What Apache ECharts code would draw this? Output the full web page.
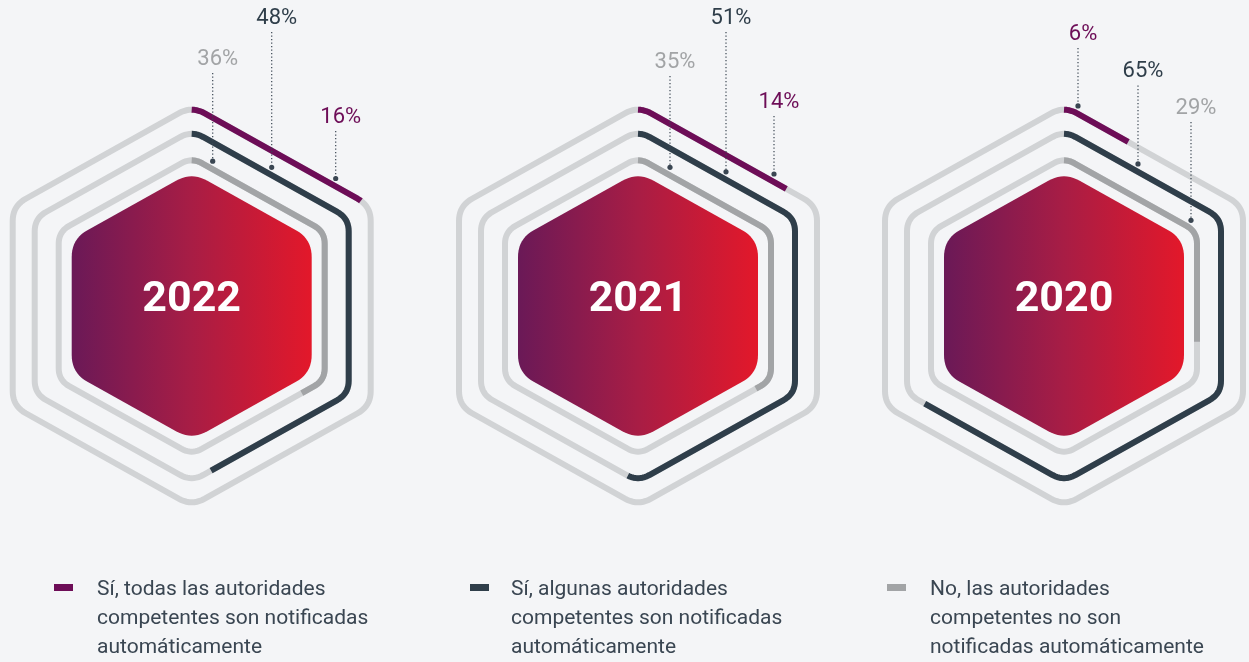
<!DOCTYPE html>
<html>
<head>
<meta charset="utf-8">
<title>Notificación automática a las autoridades competentes</title>
<script src="https://cdn.jsdelivr.net/npm/echarts@6/dist/echarts.min.js"></script>
<style>
  html, body { margin: 0; padding: 0; background: #f4f5f7; }
  #chart { width: 1249px; height: 662px; }
</style>
</head>
<body>
<div id="chart"></div>
<script>
// data
const years = ["2022", "2021", "2020"];
const todas = [16, 14, 6];     // Sí, todas las autoridades
const algunas = [48, 51, 65];  // Sí, algunas autoridades
const ninguna = [36, 35, 29];  // No
const legendLabels = [
  "Sí, todas las autoridades\ncompetentes son notificadas\nautomáticamente",
  "Sí, algunas autoridades\ncompetentes son notificadas\nautomáticamente",
  "No, las autoridades\ncompetentes no son\nnotificadas automáticamente",
];

// layout / styles
const colors = ["#6d0d57", "#2f3e4a", "#a2a4a6"];
const trackColor = "#d1d3d5";
const textColor = "#3a4652";
const centersX = [191.7, 638, 1064];
const centerY = 306;
const ringW = [179, 157, 133]; // half width of each ring (outer -> inner)
const ringCut = [15, 13, 12];
const hRatio = 1.117;
// [leader x offset, label y] per year, per ring
const labelPos = [
  [[144, 117], [80, 18], [21, 59]],
  [[136, 102], [88, 18], [32, 62]],
  [[14, 34], [74, 71.5], [127, 108]],
];
const legendX = [54, 470, 887];
const legendTextX = [97, 511, 930];

const values = [todas, algunas, ninguna];

// rounded hexagon, clockwise from the top vertex
function hexPath(cx, cy, w, h, cut) {
  const v = [
    [cx, cy - h], [cx + w, cy - h / 2], [cx + w, cy + h / 2],
    [cx, cy + h], [cx - w, cy + h / 2], [cx - w, cy - h / 2],
  ];
  const toward = (p, q, d) => {
    const dx = q[0] - p[0], dy = q[1] - p[1];
    const l = Math.sqrt(dx * dx + dy * dy);
    return [p[0] + dx / l * d, p[1] + dy / l * d];
  };
  const pts = [];
  const n = 10;
  for (let i = 0; i <= 6; i++) {
    const cur = v[i % 6], prev = v[(i + 5) % 6], next = v[(i + 1) % 6];
    const a = toward(cur, prev, cut), b = toward(cur, next, cut);
    for (let k = 0; k <= n; k++) {
      if (i === 0 && k < n / 2) continue;
      if (i === 6 && k > n / 2) break;
      const t = k / n;
      pts.push([
        (1 - t) * (1 - t) * a[0] + 2 * (1 - t) * t * cur[0] + t * t * b[0],
        (1 - t) * (1 - t) * a[1] + 2 * (1 - t) * t * cur[1] + t * t * b[1],
      ]);
    }
  }
  return pts;
}

function cutPath(pts, frac) {
  const seg = [];
  let total = 0;
  for (let i = 0; i < pts.length - 1; i++) {
    const d = Math.hypot(pts[i + 1][0] - pts[i][0], pts[i + 1][1] - pts[i][1]);
    seg.push(d);
    total += d;
  }
  let left = total * frac;
  const out = [pts[0]];
  for (let i = 0; i < seg.length; i++) {
    if (left <= seg[i]) {
      const t = left / seg[i];
      out.push([pts[i][0] + (pts[i + 1][0] - pts[i][0]) * t, pts[i][1] + (pts[i + 1][1] - pts[i][1]) * t]);
      break;
    }
    out.push(pts[i + 1]);
    left -= seg[i];
  }
  return out;
}

const ringData = [];
years.forEach((y, yi) => {
  values.forEach((arr, ri) => ringData.push([yi, ri, arr[yi]]));
});

const renderRing = (params, api) => {
  const yi = api.value(0), ri = api.value(1), val = api.value(2);
  const cx = centersX[yi];
  const w = ringW[ri], h = w * hRatio;
  const pts = hexPath(cx, centerY, w, h, ringCut[ri]);
  const prog = cutPath(pts, val / 100);
  const pos = labelPos[yi][ri];
  const lx = cx + pos[0];
  const dotY = centerY - h + pos[0] * (h / 2) / w - 8;
  return {
    type: "group",
    children: [
      { type: "polygon", shape: { points: pts.slice(0, -1) }, style: { fill: null, stroke: trackColor, lineWidth: 6 } },
      { type: "polyline", shape: { points: prog }, style: { fill: null, stroke: colors[ri], lineWidth: 6, lineCap: "butt", lineJoin: "round" } },
      { type: "line", shape: { x1: lx, y1: pos[1] + 14, x2: lx, y2: dotY }, style: { stroke: textColor, lineWidth: 1.2, lineDash: [1.2, 2.3] } },
      { type: "circle", shape: { cx: lx, cy: dotY, r: 2.6 }, style: { fill: textColor } },
      {
        type: "text",
        style: {
          text: val + "%", x: lx + 5, y: pos[1], fill: colors[ri],
          font: "22px Roboto", align: "center", verticalAlign: "middle",
        },
      },
    ],
  };
};

const renderCenter = (params, api) => {
  const yi = api.value(0);
  const cx = centersX[yi];
  const pts = hexPath(cx, centerY, 120, 120 * hRatio, 18);
  return {
    type: "group",
    children: [
      {
        type: "polygon",
        shape: { points: pts.slice(0, -1) },
        style: {
          fill: {
            type: "linear", x: 0, y: 0, x2: 1, y2: 0,
            colorStops: [
              { offset: 0, color: "#6a1957" },
              { offset: 0.5, color: "#a81d45" },
              { offset: 1, color: "#e3182a" },
            ],
          },
        },
      },
      {
        type: "text",
        style: {
          text: years[yi], x: cx, y: centerY - 6, fill: "#ffffff",
          font: "bold 43px Roboto", align: "center", verticalAlign: "middle",
        },
      },
    ],
  };
};

const graphics = [];
legendLabels.forEach((label, i) => {
  graphics.push({ type: "rect", left: legendX[i], top: 584, shape: { width: 19, height: 7 }, style: { fill: colors[i] } });
  graphics.push({
    type: "text", left: legendTextX[i], top: 575,
    style: { text: label, fill: textColor, font: "21px Roboto", lineHeight: 29 },
  });
});

const chart = echarts.init(document.getElementById("chart"));
const option = {
  backgroundColor: "#f4f5f7",
  animation: false,
  graphic: graphics,
  series: [
    { type: "custom", coordinateSystem: "none", data: years.map((y, i) => [i]), renderItem: renderCenter },
    { type: "custom", coordinateSystem: "none", data: ringData, renderItem: renderRing },
  ],
};
chart.setOption(option);
</script>
</body>
</html>
